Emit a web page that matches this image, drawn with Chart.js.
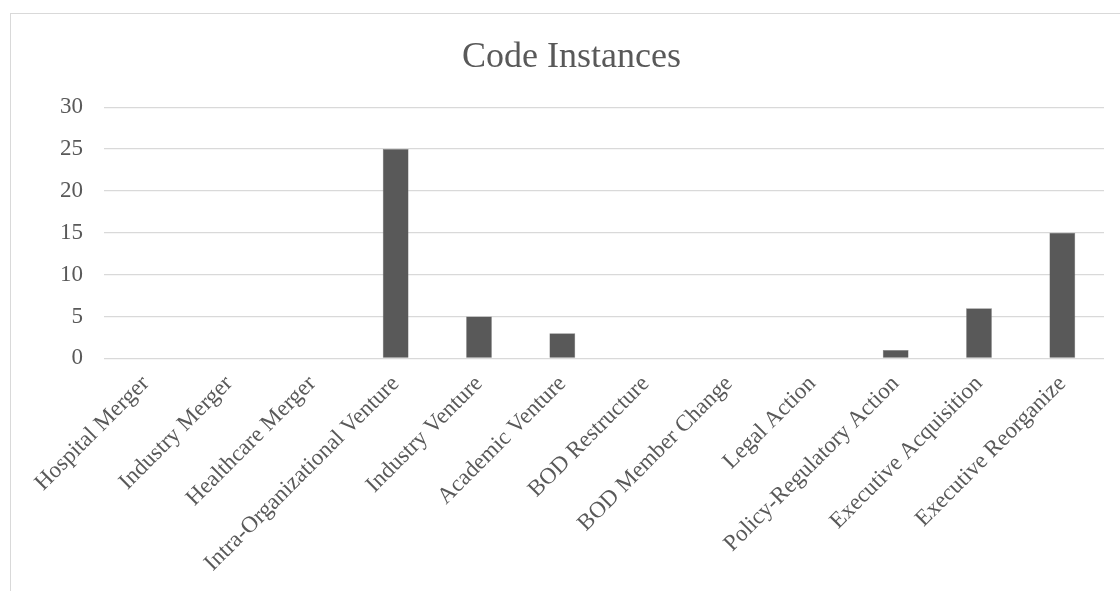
<!DOCTYPE html>
<html>
<head>
<meta charset="utf-8">
<script src="https://cdn.jsdelivr.net/npm/chart.js@4/dist/chart.umd.min.js"></script>
<style>
  html, body { margin: 0; padding: 0; background: #fff; overflow: hidden; }
  #frame { position: absolute; left: 10px; top: 13px; width: 1200px; height: 700px; border: 1px solid #d9d9d9; }
  #wrap { position: absolute; left: 0; top: 0; width: 1120px; height: 591px; }
</style>
</head>
<body>
<div id="frame"></div>
<div id="wrap"><canvas id="chart"></canvas></div>
<script>
var categories = ['Hospital Merger', 'Industry Merger', 'Healthcare Merger', 'Intra-Organizational Venture',
    'Industry Venture', 'Academic Venture', 'BOD Restructure', 'BOD Member Change', 'Legal Action',
    'Policy-Regulatory Action', 'Executive Acquisition', 'Executive Reorganize'];
var instances = [0, 0, 0, 25, 5, 3, 0, 0, 0, 1, 6, 15];
var yTicks = [0, 5, 10, 15, 20, 25, 30];

var serif = '"Liberation Serif", "Times New Roman", serif';
var textColor = '#595959';

new Chart(document.getElementById('chart'), {
    type: 'bar',
    data: {
        labels: categories,
        datasets: [{
            label: 'Code Instances',
            data: instances,
            backgroundColor: '#595959',
            borderColor: '#7f7f7f',
            borderWidth: 0.5,
            barPercentage: 0.31,
            categoryPercentage: 1
        }]
    },
    options: {
        responsive: true,
        maintainAspectRatio: false,
        animation: false,
        layout: { padding: { left: 39, right: 16, top: 0, bottom: 10 } },
        plugins: {
            legend: { display: false },
            tooltip: { enabled: false },
            title: {
                display: true,
                text: 'Code Instances',
                color: textColor,
                font: { family: serif, size: 36, weight: 'normal' },
                padding: { top: 36, bottom: 28 }
            }
        },
        scales: {
            x: {
                grid: { display: false },
                border: { display: false },
                ticks: {
                    color: textColor,
                    font: { family: serif, size: 23 },
                    minRotation: 45,
                    maxRotation: 45,
                    autoSkip: false,
                    padding: 4
                }
            },
            y: {
                min: yTicks[0],
                max: yTicks[yTicks.length - 1],
                afterBuildTicks: function (axis) {
                    axis.ticks = yTicks.map(function (v) { return { value: v }; });
                },
                grid: { color: '#d9d9d9', lineWidth: 1.3, drawTicks: false },
                border: { display: false },
                ticks: {
                    color: textColor,
                    font: { family: serif, size: 23 },
                    padding: 21
                }
            }
        }
    }
});
</script>
</body>
</html>
